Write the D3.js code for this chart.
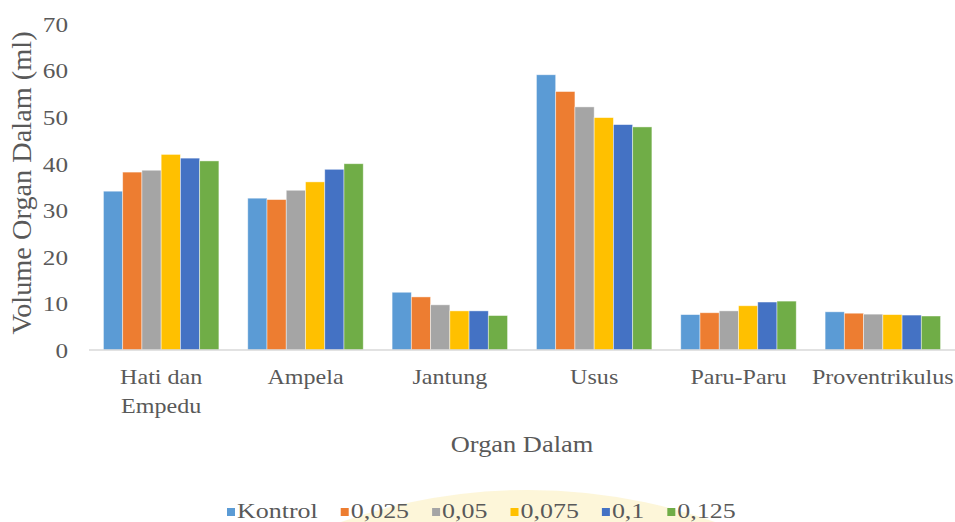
<!DOCTYPE html>
<html>
<head>
<meta charset="utf-8">
<script src="https://cdn.jsdelivr.net/npm/d3@7/dist/d3.min.js"></script>
<style>
  html, body { margin: 0; padding: 0; background: #fff; }
  svg { display: block; }
  text { font-family: "Liberation Serif", "Times New Roman", serif; fill: #595959; }
</style>
</head>
<body>
<svg id="chart" width="955" height="522"></svg>
<script>
// Organ volumes (ml) per treatment dose
const categories = ["Hati dan\nEmpedu", "Ampela", "Jantung", "Usus", "Paru-Paru", "Proventrikulus"];
const seriesNames = ["Kontrol", "0,025", "0,05", "0,075", "0,1", "0,125"];
const kontrol = [34.1, 32.6, 12.4, 59.1, 7.6, 8.2];
const dose0025 = [38.2, 32.3, 11.4, 55.5, 8.0, 7.9];
const dose005 = [38.6, 34.3, 9.7, 52.2, 8.4, 7.7];
const dose0075 = [42.0, 36.1, 8.4, 49.9, 9.5, 7.6];
const dose01 = [41.2, 38.8, 8.4, 48.4, 10.3, 7.5];
const dose0125 = [40.6, 40.0, 7.4, 47.9, 10.5, 7.3];
const yTicks = [0, 10, 20, 30, 40, 50, 60, 70];
const colors = ["#5B9BD5", "#ED7D31", "#A5A5A5", "#FFC000", "#4472C4", "#70AD47"];

const seriesValues = [kontrol, dose0025, dose005, dose0075, dose01, dose0125];
const rows = categories.map((c, i) => ({
  category: c,
  values: seriesNames.map((s, j) => ({ key: s, value: seriesValues[j][i] }))
}));

const svg = d3.select("#chart");
const plot = { left: 89, right: 955, top: 24, bottom: 350 };
const SX = 1.12; // horizontal stretch of the serif face

// faint seal band behind the legend
svg.append("path")
  .attr("d", d3.arc()({ innerRadius: 530, outerRadius: 562, startAngle: -0.42, endAngle: 0.42 }))
  .attr("transform", "translate(528,1052)")
  .attr("fill", "#fbeeb4").attr("opacity", 0.5);

const x0 = d3.scaleBand().domain(categories).range([plot.left, plot.right])
  .paddingInner(0.2).paddingOuter(0.1);
const x1 = d3.scaleBand().domain(seriesNames).range([0, x0.bandwidth()]);
const y = d3.scaleLinear().domain([0, 70]).range([plot.bottom, plot.top]);
const color = d3.scaleOrdinal().domain(seriesNames).range(colors);

// bars
const groups = svg.append("g").selectAll("g").data(rows).join("g")
  .attr("transform", d => `translate(${x0(d.category)},0)`);
groups.selectAll("rect").data(d => d.values).join("rect")
  .attr("x", d => x1(d.key))
  .attr("y", d => y(d.value))
  .attr("width", x1.bandwidth())
  .attr("height", d => y(0) - y(d.value))
  .attr("fill", d => color(d.key))
  .attr("stroke", "#ffffff")
  .attr("stroke-opacity", 0.55)
  .attr("stroke-width", 0.8);

// baseline
svg.append("line")
  .attr("x1", plot.left).attr("x2", plot.right)
  .attr("y1", y(0)).attr("y2", y(0))
  .attr("stroke", "#d9d9d9").attr("stroke-width", 1.5);

// y tick labels
const yAxis = d3.axisLeft(y).tickValues(yTicks).tickSize(0).tickPadding(0);
const yg = svg.append("g").attr("transform", "translate(68,0)").call(yAxis);
yg.select(".domain").remove();
yg.selectAll("text")
  .attr("x", 0).attr("dy", "0.35em")
  .style("font-size", "21px")
  .attr("fill", "#595959")
  .attr("transform", `scale(1.2,1)`);

// category labels
const xg = svg.append("g");
rows.forEach(r => {
  const lines = r.category.split("\n");
  const cx = x0(r.category) + x0.bandwidth() / 2;
  lines.forEach((ln, k) => {
    xg.append("text")
      .attr("transform", `translate(${cx},${384 + k * 29}) scale(${SX},1)`)
      .attr("text-anchor", "middle")
      .style("font-size", "21.5px")
      .attr("fill", k === 0 ? "#595959" : "#7f7f7f")
      .text(ln);
  });
});

// axis titles
svg.append("text")
  .attr("transform", `translate(522,452) scale(1.1,1)`)
  .attr("text-anchor", "middle")
  .style("font-size", "24px")
  .text("Organ Dalam");

svg.append("text")
  .attr("transform", `translate(31,183) rotate(-90) scale(1.18,1.15)`)
  .attr("text-anchor", "middle")
  .style("font-size", "24px")
  .text("Volume Organ Dalam (ml)");

// legend
const legend = svg.append("g");
let lx = 227;
seriesNames.forEach((s, i) => {
  const g = legend.append("g").attr("transform", `translate(${lx},0)`);
  g.append("rect").attr("x", 0).attr("y", 508).attr("width", 8).attr("height", 8)
    .attr("fill", colors[i]);
  const t = g.append("text")
    .attr("transform", `translate(10,518) scale(1.18,1)`)
    .style("font-size", "22px")
    .text(s);
  const w = t.node().getComputedTextLength() * 1.18;
  lx += 10 + w + 23;
});
</script>
</body>
</html>
